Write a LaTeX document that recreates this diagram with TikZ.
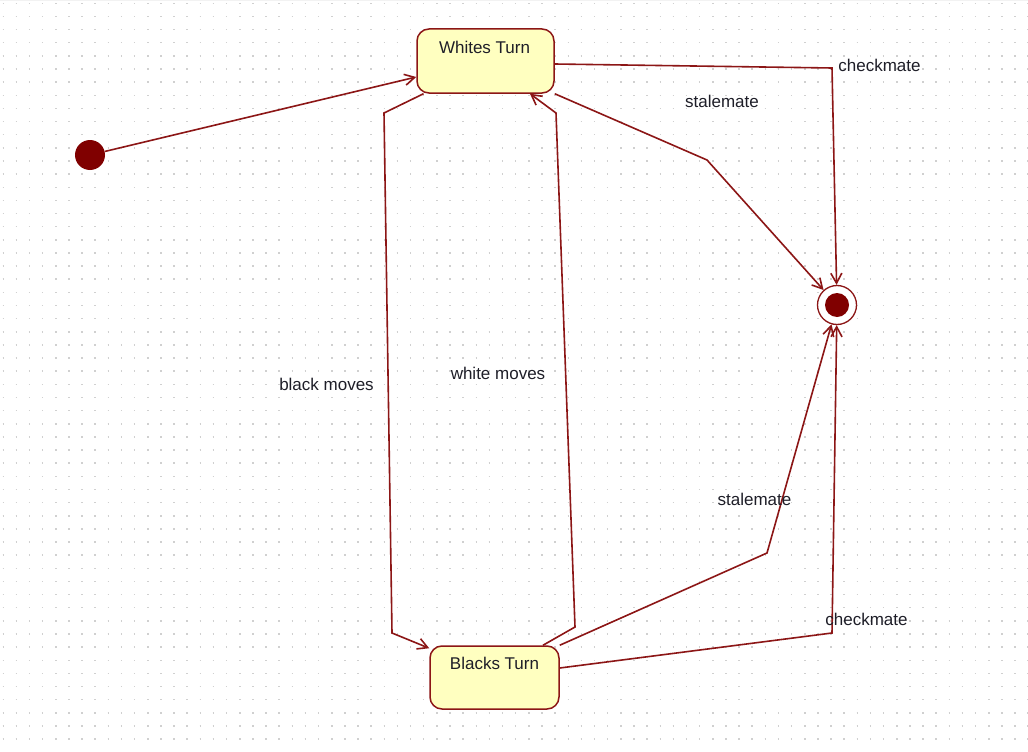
\documentclass[tikz,border=0pt]{standalone}
\usepackage{fontspec}
\setmainfont{Liberation Sans}
\usetikzlibrary{arrows.meta}
\definecolor{edgec}{RGB}{140,22,22}
\definecolor{statefill}{RGB}{255,255,192}
\definecolor{initc}{RGB}{128,0,0}
\definecolor{dotc}{RGB}{208,208,208}
\definecolor{txtc}{RGB}{30,30,40}
\begin{document}
\begin{tikzpicture}[x=1pt,y=-1pt,
  statebox/.style={draw=edgec, fill=statefill, line width=1.5pt, rounded corners=12pt, inner sep=0pt},
  trans/.style={draw=edgec, line width=1.6pt, -{Straight Barb[length=10pt,width=11pt]}},
  lbl/.style={font=\fontsize{17}{20}\selectfont, text=txtc, inner sep=0pt},
]
\useasboundingbox (0,0) rectangle (1028,752);
\fill[white] (0,0) rectangle (1028,752);
\fill[gray!10] (0,0) rectangle (1028,1.5);
\foreach \j in {0,...,57}
  \draw[dotc, line width=1.5pt, dash pattern=on 1.5pt off 11.64pt] (2.5,{3.3+13.14*\j}) -- (1028,{3.3+13.14*\j});

% states
\node[statebox, minimum width=137pt, minimum height=64pt] (wt) at (485.5,61) {};
\node[lbl] (wtl) at (484.5,47) {Whites Turn};
\node[statebox, minimum width=129pt, minimum height=63pt] (bt) at (494.5,677.5) {};
\node[lbl] (btl) at (494.5,663) {Blacks Turn};
\node[circle, fill=initc, minimum size=30pt, inner sep=0pt] (init) at (90,155) {};
\node[circle, draw=edgec, line width=1.3pt, fill=white, minimum size=39pt, inner sep=0pt] (final) at (837,305) {};
\node[circle, fill=initc, minimum size=24pt, inner sep=0pt] (finalin) at (837,305) {};

% bend points
\coordinate (c1) at (832,68);
\coordinate (s1) at (707,160);
\coordinate (b1) at (384,113);
\coordinate (b2) at (392,633);
\coordinate (w1) at (575,627);
\coordinate (w2) at (556,113);
\coordinate (s2) at (767,553);
\coordinate (c2) at (832,633);

% transitions
\draw[trans] (init) -- ([yshift=-16pt]wt.west);
\draw[trans] ([yshift=-3pt]wt.east) -- (c1) -- (final);
\draw[trans] (wt.south east) -- (s1) -- (final);
\draw[trans] ([xshift=-62pt]wt.south) -- (b1) -- (b2) -- ([yshift=-3pt]bt.north west);
\draw[trans] ([xshift=48.5pt]bt.north) -- (w1) -- (w2) -- ([xshift=44.5pt]wt.south);
\draw[trans] (bt.north east) -- (s2) -- (final);
\draw[trans] ([yshift=9.5pt]bt.east) -- (c2) -- (final);

% labels
\node[lbl] (l1) at (879.5,65) {checkmate};
\node[lbl] (l2) at (722,101) {stalemate};
\node[lbl] (l3) at (326.5,384) {black moves};
\node[lbl] (l4) at (498,373) {white moves};
\node[lbl] (l5) at (754.5,499) {stalemate};
\node[lbl] (l6) at (866.5,619) {checkmate};
\end{tikzpicture}
\end{document}
